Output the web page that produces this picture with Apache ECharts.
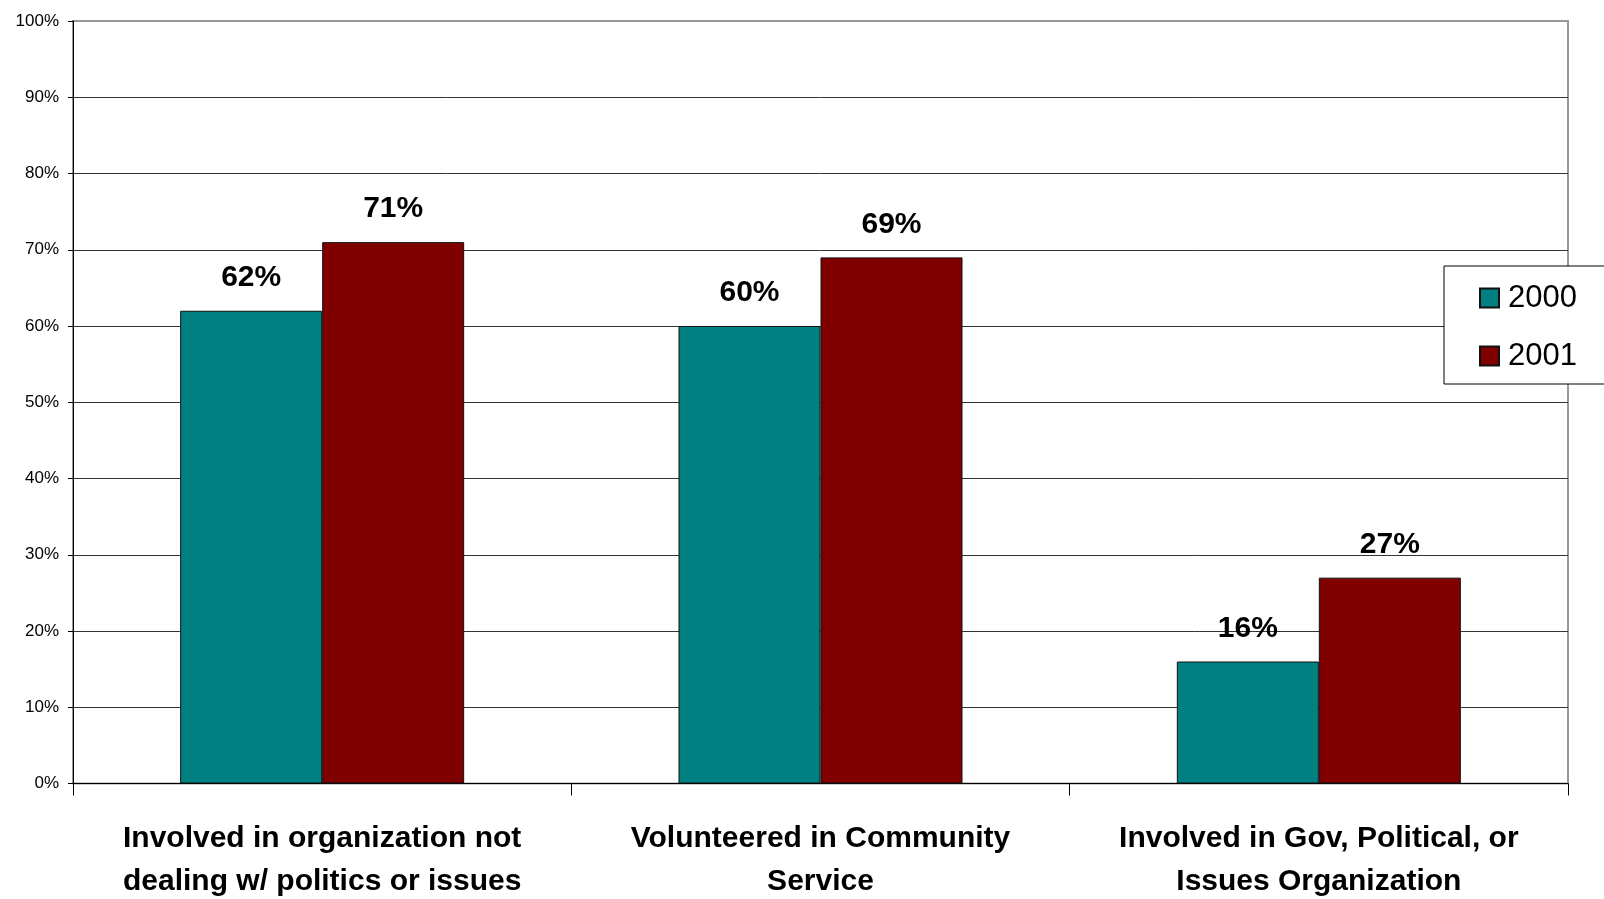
<!DOCTYPE html>
<html>
<head>
<meta charset="utf-8">
<script src="https://cdn.jsdelivr.net/npm/echarts@6/dist/echarts.min.js"></script>
<style>
html,body{margin:0;padding:0;background:#fff;}
#chart{width:1604px;height:899px;}
</style>
</head>
<body>
<div id="chart"></div>
<script>
const categories = [
  "Involved in organization not\ndealing w/ politics or issues",
  "Volunteered in Community\nService",
  "Involved in Gov, Political, or\nIssues Organization"
];
const seriesNames = ["2000", "2001"];
const values2000 = [62, 60, 16];
const values2001 = [71, 69, 27];
const seriesColors = ["#008080", "#800000"];

const baseFont = '"Liberation Sans", Arial, sans-serif';

const chart = echarts.init(document.getElementById('chart'), null, {renderer: 'canvas'});

function makeSeries(name, data, color) {
  return {
    name: name,
    type: 'bar',
    data: data,
    barWidth: 142,
    barGap: '0%',
    itemStyle: {color: color, borderColor: '#111', borderWidth: 1},
    label: {
      show: true,
      position: 'top',
      distance: 18,
      formatter: '{c}%',
      color: '#000',
      fontFamily: baseFont,
      fontWeight: 'bold',
      fontSize: 30
    }
  };
}

chart.setOption({
  animation: false,
  backgroundColor: '#fff',
  grid: {
    left: 73, right: 36, top: 21, bottom: 115.5,
    containLabel: false,
    outerBoundsMode: 'none',
    show: true, borderColor: '#999', borderWidth: 2, backgroundColor: 'transparent'
  },
  legend: {
    data: seriesNames,
    orient: 'vertical',
    left: 1444,
    top: 266,
    padding: [14, 40, 10, 35],
    itemWidth: 19,
    itemHeight: 19,
    itemGap: 22,
    backgroundColor: '#fff',
    borderColor: '#000',
    borderWidth: 1,
    icon: 'rect',
    textStyle: {
      fontFamily: baseFont,
      fontSize: 31,
      lineHeight: 36,
      color: '#000',
      padding: [0, 0, 0, 4]
    }
  },
  xAxis: {
    type: 'category',
    data: categories,
    axisLine: {lineStyle: {color: '#000', width: 1}},
    axisTick: {show: true, interval: 0, length: 12, lineStyle: {color: '#000'}},
    axisLabel: {
      interval: 0,
      margin: 34,
      color: '#000',
      fontFamily: baseFont,
      fontWeight: 'bold',
      fontSize: 30,
      lineHeight: 43
    }
  },
  yAxis: {
    type: 'value',
    min: 0,
    max: 100,
    interval: 10,
    axisLine: {show: true, lineStyle: {color: '#000', width: 1}},
    axisTick: {show: true, length: 5, lineStyle: {color: '#000'}},
    axisLabel: {
      formatter: '{value}%',
      margin: 14,
      color: '#000',
      fontFamily: baseFont,
      fontSize: 17
    },
    splitLine: {show: true, showMaxLine: false, lineStyle: {color: '#333', width: 1}}
  },
  series: [
    makeSeries(seriesNames[0], values2000, seriesColors[0]),
    makeSeries(seriesNames[1], values2001, seriesColors[1])
  ]
});
</script>
</body>
</html>
